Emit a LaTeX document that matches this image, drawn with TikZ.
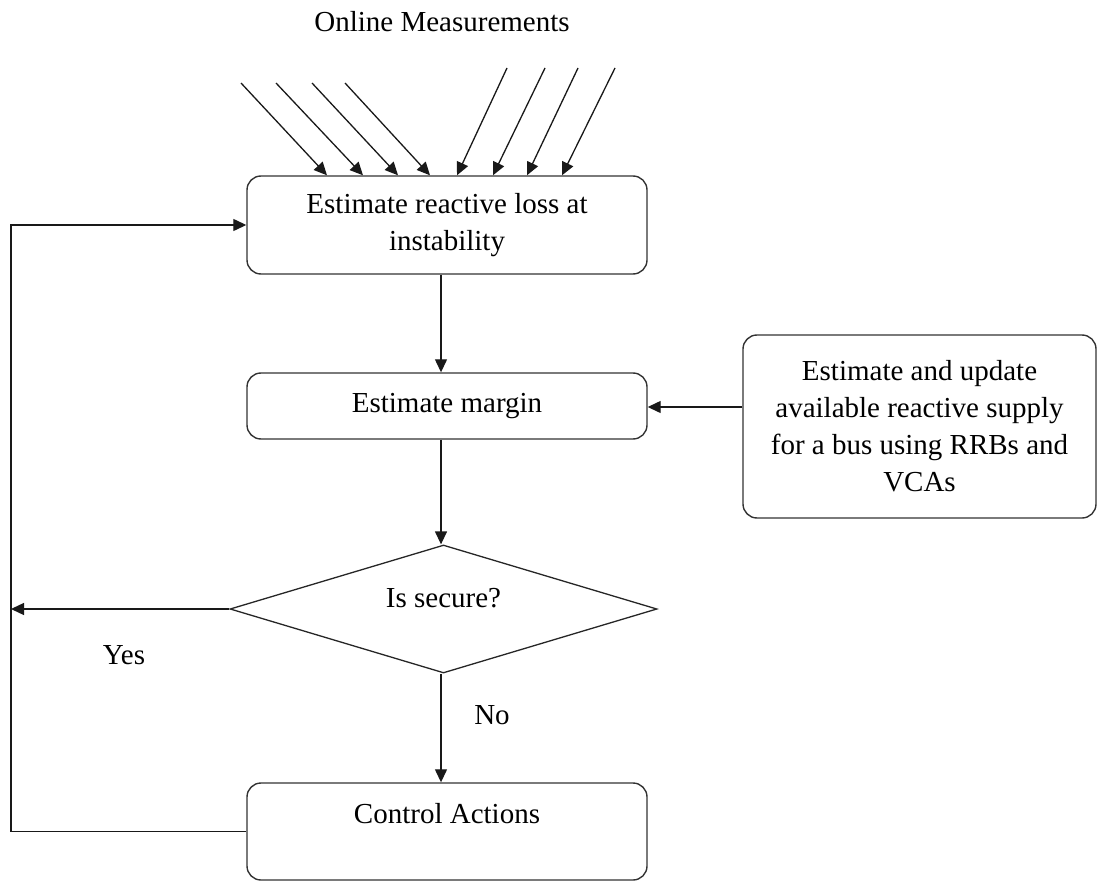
\documentclass[tikz,border=0pt]{standalone}
\usepackage{fontspec}
\setmainfont{Liberation Serif}
\usetikzlibrary{arrows.meta,shapes.geometric}
\begin{document}
\begin{tikzpicture}[x=1pt,y=-1pt,
  every node/.style={font=\fontsize{29}{37}\selectfont},
  box/.style={draw=black!80, rounded corners=14pt, line width=1.4pt,
              align=center, minimum width=400pt, inner sep=0pt},
  conn/.style={line width=1.3pt, black!90},
  arr/.style={conn, -{Triangle[length=13pt,width=12pt]}},
  lbl/.style={inner sep=0pt}]
\useasboundingbox (0,0) rectangle (1099,882);

% nodes
\node[lbl] (title) at (442,22) {Online Measurements};
\node[box, minimum height=98pt] (loss) at (447,225)
  {Estimate reactive loss at\\instability};
\node[box, minimum height=66pt] (margin) at (447,406)
  {\raisebox{4pt}{Estimate margin}};
\node[box, minimum width=353pt, minimum height=183pt] (supply) at (919.5,426.5)
  {Estimate and update\\available reactive supply\\for a bus using RRBs and\\VCAs};
\node[diamond, draw=black!85, line width=1.3pt, minimum width=427pt,
      minimum height=128pt, inner sep=0pt] (dec) at (443.5,609) {};
\node[lbl] (q) at (443.5,598) {Is secure?};
\node[box, minimum height=97pt] (ctrl) at (447,831.5)
  {\raisebox{8pt}[0pt][0pt]{Control Actions}};
\node[lbl] (yes) at (124,655) {Yes};
\node[lbl] (no) at (492,715) {No};

% helper coordinates
\coordinate (axis) at (441,0);
\coordinate (lx) at (11,0);
\coordinate (sy) at (0,407);

% incoming measurements
\foreach \sx/\sy/\ex [count=\i] in
  {241/83/327, 276/83/363, 312/83/398, 345/83/430,
   507/68/457, 545/68/493, 578/68/527, 615/68/562}{
  \coordinate (m\i) at (\sx,\sy);
  \coordinate (n\i) at (\ex,0);
  \draw[arr] (m\i) -- (n\i |- loss.north);
}

% flow
\draw[arr] (axis |- loss.south) -- (axis |- margin.north);
\draw[arr] (supply.west |- sy) -- (margin.east |- sy);
\draw[arr] (axis |- margin.south) -- (axis |- dec.north);
\draw[arr] (axis |- dec.south) -- (axis |- ctrl.north);
\draw[arr] (dec.west) -- (lx |- dec.west);
\draw[arr] (ctrl.west) -- (lx |- ctrl.west) -- (lx |- loss.west) -- (loss.west);
\end{tikzpicture}
\end{document}
